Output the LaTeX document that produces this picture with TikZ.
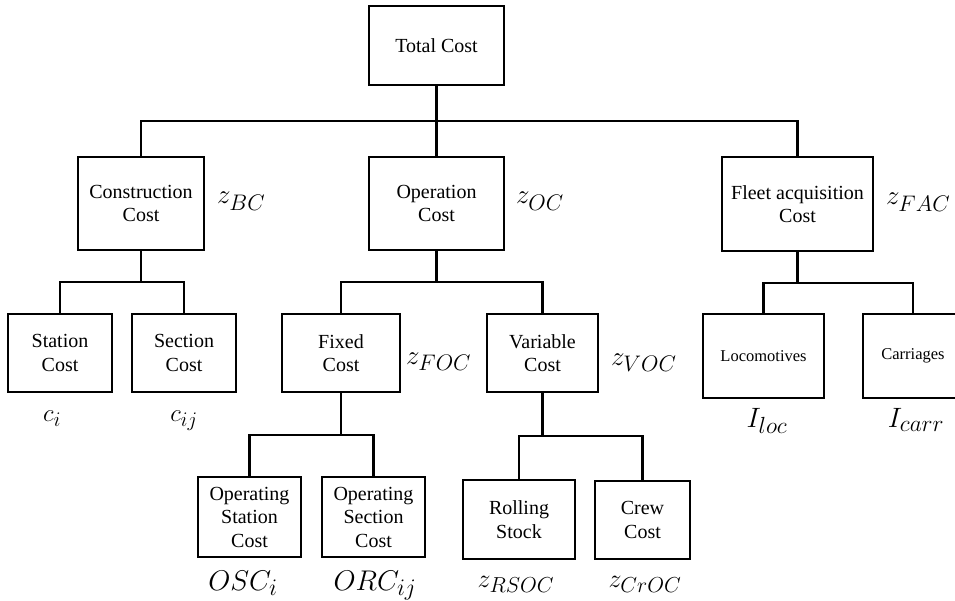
\documentclass[tikz,border=0pt]{standalone}
\usepackage{graphicx}
\usepackage{fontspec}
\setmainfont{Liberation Serif}
\newcommand\mlab[2]{\scalebox{#1}{$#2$}}
\begin{document}
\begin{tikzpicture}[x=1pt,y=-1pt,
  box/.style={draw,line width=2.8pt,rectangle,align=center,inner sep=0pt,
    font=\fontsize{20}{23.5}\selectfont},
  smallbox/.style={box,font=\fontsize{16.5}{19}\selectfont},
  conn/.style={line width=2.8pt},
  lab/.style={inner sep=0pt,anchor=base west,font=\fontsize{24.88}{26}\selectfont},
  labc/.style={inner sep=0pt,anchor=base,font=\fontsize{24.88}{26}\selectfont}]
\useasboundingbox (0,0) rectangle (955,601);
\clip (0,0) rectangle (955,601);
\fill[white] (0,0) rectangle (955,601);
% boxes
\node[box,minimum width=135pt,minimum height=79pt] (total) at (436.5,45.5) {Total Cost};
\node[box,minimum width=126pt,minimum height=93pt] (constr) at (141,203.5) {Construction\\Cost};
\node[box,minimum width=135pt,minimum height=93pt] (oper) at (436.5,203.5) {Operation\\Cost};
\node[box,minimum width=151pt,minimum height=94pt] (fleet) at (797.5,204) {Fleet acquisition\\Cost};
\node[box,minimum width=104pt,minimum height=78pt] (station) at (60,353) {Station\\Cost};
\node[box,minimum width=104pt,minimum height=78pt] (section) at (184,353) {Section\\Cost};
\node[box,minimum width=118pt,minimum height=78pt] (fixed) at (341,353) {Fixed\\Cost};
\node[box,minimum width=111pt,minimum height=78pt] (variable) at (542.5,353) {Variable\\Cost};
\node[smallbox,minimum width=121pt,minimum height=84pt] (loco) at (763.5,356) {Locomotives};
\node[smallbox,minimum width=100pt,minimum height=84pt] (carr) at (913,356) {Carriages};
\node[box,minimum width=103pt,minimum height=80pt] (osc) at (249.5,517) {Operating\\Station\\Cost};
\node[box,minimum width=103pt,minimum height=80pt] (orc) at (373.5,517) {Operating\\Section\\Cost};
\node[box,minimum width=112pt,minimum height=79pt] (rolling) at (519,519.5) {Rolling\\Stock};
\node[box,minimum width=95pt,minimum height=78pt] (crew) at (642.5,520) {Crew\\Cost};
% bus coordinates
\coordinate (b1) at (436.5,121);
\coordinate (b2) at (141,282);
\coordinate (b3) at (436.5,282);
\coordinate (b4) at (797.5,283);
\coordinate (b5) at (341,435);
\coordinate (b6) at (542.5,436);
% connectors
\draw[conn] (total.south) -- (b1);
\draw[conn] (b1) -- (oper.north);
\draw[conn] (constr.north) |- (b1) -| (fleet.north);
\draw[conn] (constr.south) -- (b2);
\draw[conn] (station.north) |- (b2) -| (section.north);
\draw[conn] (oper.south) -- (b3);
\draw[conn] (fixed.north) |- (b3) -| (variable.north);
\draw[conn] (fleet.south) -- (b4);
\draw[conn] (loco.north) |- (b4) -| (carr.north);
\draw[conn] (fixed.south) -- (b5);
\draw[conn] (osc.north) |- (b5) -| (orc.north);
\draw[conn] (variable.south) -- (b6);
\draw[conn] (rolling.north) |- (b6) -| (crew.north);
% labels
\node[lab] (lbc) at (217,204) {\mlab{1.085}{z_{BC}}};
\node[lab] (loc) at (516,204) {\mlab{1.085}{z_{OC}}};
\node[lab] (lfac) at (886,205) {\mlab{1.085}{z_{FAC}}};
\node[lab] (lfoc) at (406,364) {\mlab{1.085}{z_{FOC}}};
\node[lab] (lvoc) at (611,365) {\mlab{1.085}{z_{VOC}}};
\node[labc] (lci) at (52,421) {\mlab{1.0}{c_i}};
\node[labc] (lcij) at (184,421) {\mlab{1.0}{c_{ij}}};
\node[labc] (liloc) at (767,427) {\mlab{1.125}{I_{loc}}};
\node[labc] (licarr) at (916,427) {\mlab{1.125}{I_{carr}}};
\node[labc] (losc) at (243,590) {\mlab{1.145}{OSC_i}};
\node[labc] (lorc) at (375,590) {\mlab{1.145}{ORC_{ij}}};
\node[labc] (lrsoc) at (516,587) {\mlab{1.045}{z_{RSOC}}};
\node[labc] (lcroc) at (645,587) {\mlab{1.045}{z_{CrOC}}};
\end{tikzpicture}
\end{document}
